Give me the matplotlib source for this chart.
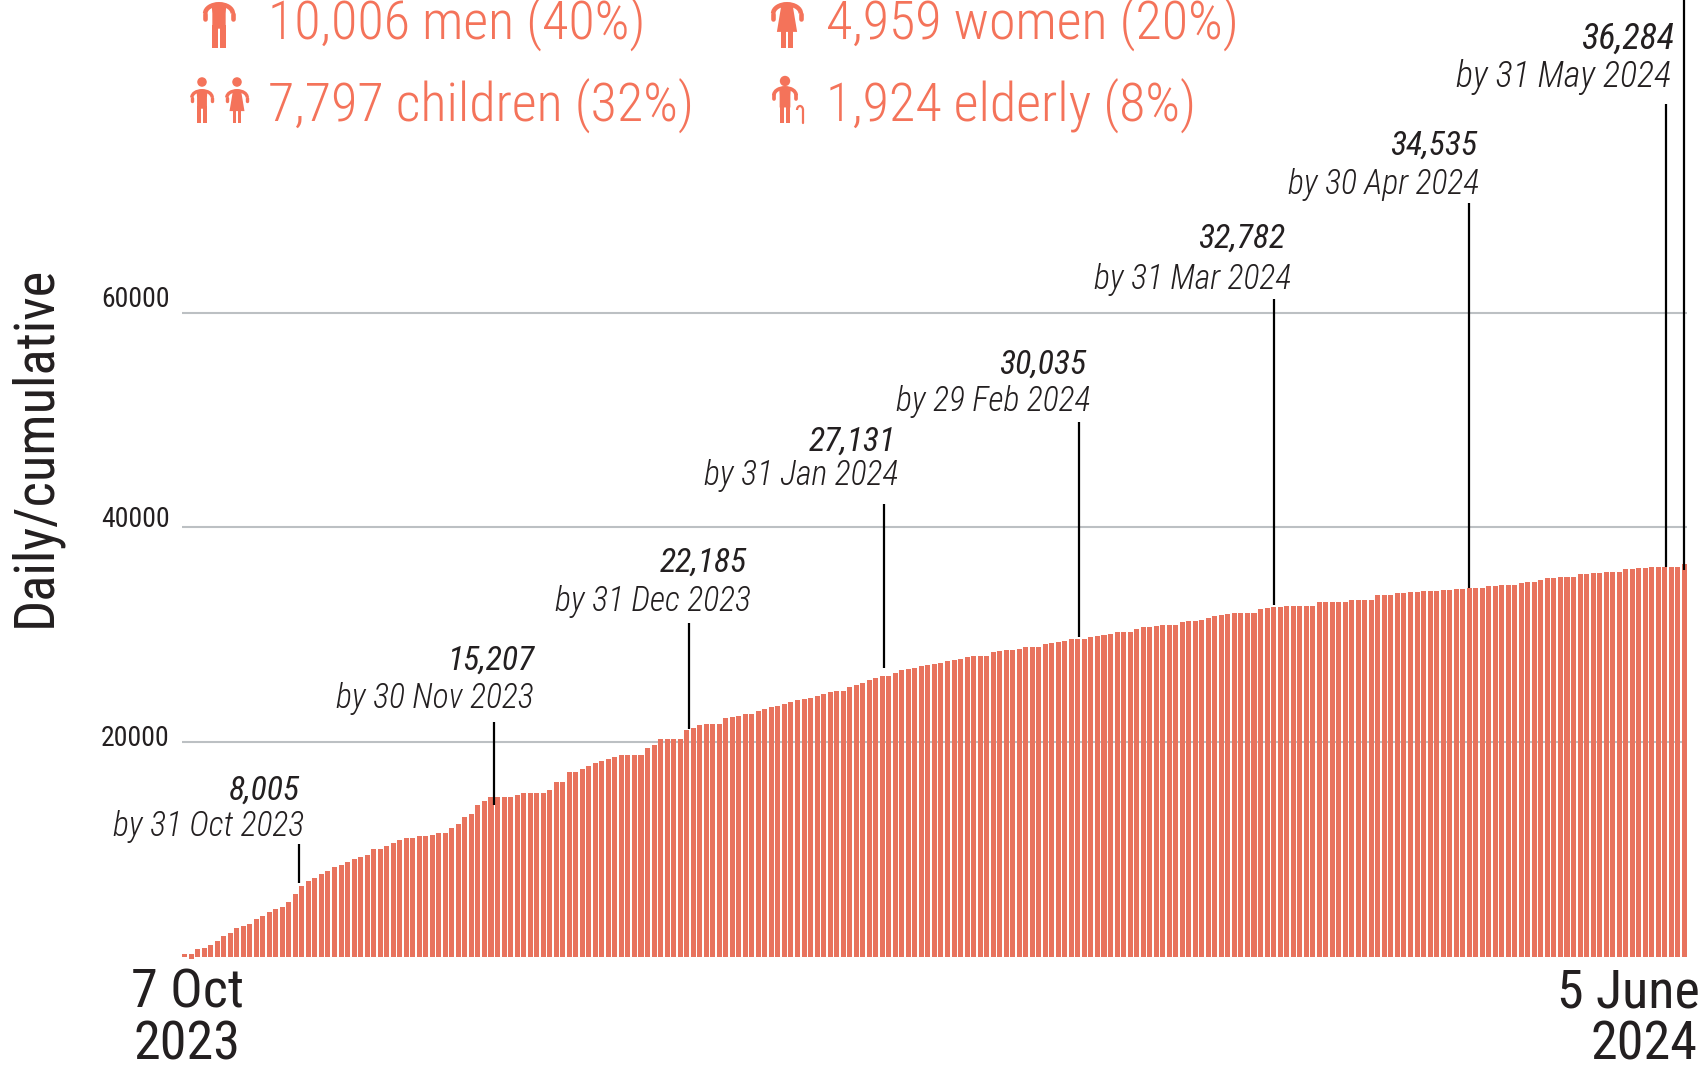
#!/usr/bin/python3

import matplotlib
matplotlib.use('Agg')
import matplotlib.pyplot as plt
from matplotlib.patches import Arc, Circle, Polygon, Rectangle

FONT = ['Roboto Condensed', 'Roboto', 'DejaVu Sans']
BAR_COLOR = '#E8735E'
LEGEND_COLOR = '#F4735A'
DARK = '#231F20'

# Height of each bar.
cumulative = [
    220, 220, 710, 810, 1090, 1460, 1930, 2210, 2670, 2860, 3040, 3510, 3790, 4160, 4440,
    4630, 5090, 5840, 6580, 7050, 7330, 7700, 7980, 8350, 8540, 8820, 9100, 9280, 9470,
    10030, 10030, 10310, 10590, 10870, 11050, 11050, 11240, 11240, 11330, 11520, 11520,
    11990, 12360, 13010, 13290, 14130, 14500, 14870, 14870, 14870, 14870, 15060, 15250,
    15250, 15250, 15250, 15530, 16270, 16270, 17200,
    17200, 17480, 17760, 18040, 18230, 18410, 18600, 18790, 18790, 18790, 18790, 19440,
    19720, 20280, 20280, 20280, 20280, 21110, 21300, 21580, 21670, 21670, 21670, 22230,
    22330, 22420, 22600, 22600, 22880, 23070, 23260, 23350, 23540, 23720, 23910, 24000,
    24100, 24280, 24470, 24650, 24750, 24750, 25120, 25310, 25490, 25770, 25960, 26140,
    26140, 26420, 26700, 26800, 26890, 27080, 27170, 27260, 27360, 27540, 27640, 27730,
    27910,
    28010, 28010, 28010, 28380, 28470, 28570, 28570, 28660, 28850, 28850, 28850, 29130,
    29220, 29310, 29400, 29590, 29590, 29590, 29780, 29870, 29960, 30060, 30240, 30240,
    30240, 30520, 30710, 30710, 30800, 30900, 30900, 30900, 31170, 31270, 31270, 31360,
    31550, 31730, 31830, 31920, 32010, 32010, 32010, 32010, 32390, 32480, 32570, 32570,
    32670, 32670, 32670, 32670, 32670, 33040, 33040, 33040, 33040, 33040, 33220, 33220,
    33220, 33220,
    33720, 33720, 33720, 33900, 33900, 34000, 34000, 34090, 34090, 34090, 34180, 34180,
    34280, 34280, 34370, 34370, 34370, 34560, 34560, 34650, 34650, 34650, 34840, 34930,
    34930, 35120, 35310, 35310, 35370, 35370, 35370, 35650, 35650, 35740, 35740, 35840,
    35840, 35840, 36120, 36120, 36210, 36210, 36310, 36310, 36310, 36310, 36310, 36590,
]

grid_values = [20000, 40000, 60000]
grid_labels = ['20000', '40000', '60000']

# Annotated month ends: bar position, line top, line bottom, number, date.
month_bar = [17.5, 47.4, 77.3, 107.3, 137.2, 167.1, 197.0, 227.2, 230.0]
month_top = [10500, 21860, 31080, 42170, 49850, 61270, 70210, 79430, 89117]
month_bottom = [6870, 14130, 21180, 26920, 29810, 32760, 34300, 36300, 36020]
month_totals = ['8,005', '15,207', '22,185', '27,131', '30,035', '32,782', '34,535', '36,284']
month_dates = ['by 31 Oct 2023', 'by 30 Nov 2023', 'by 31 Dec 2023', 'by 31 Jan 2024',
               'by 29 Feb 2024', 'by 31 Mar 2024', 'by 30 Apr 2024', 'by 31 May 2024']

legend_labels = ['10,006 men (40%)', '4,959 women (20%)', '7,797 children (32%)', '1,924 elderly (8%)']

W, H = 1704, 1065

fig = plt.figure(figsize=(W / 100, H / 100), dpi=100)

# Chart axes fill the figure from the left of the bars to just past the last one.
ax = fig.add_axes([182 / W, 0, (1687 - 182) / W, 1])
ax.set_xlim(-0.385, 230.4)
ax.set_ylim(-10090, 89117)
ax.axis('off')

ax.hlines(grid_values, -0.385, 230.4, color='#BCC0C3', lw=1.5, zorder=1)
bottoms = [0] * len(cumulative)
bottoms[1] = -190
heights = [c - b for c, b in zip(cumulative, bottoms)]
ax.bar(range(len(cumulative)), heights, bottom=bottoms, width=0.77, color=BAR_COLOR, zorder=2)
ax.vlines(month_bar, month_bottom, month_top, color='black', lw=1.6, zorder=3, clip_on=False)

# Overlay in pixel coordinates for the text and the little people.
over = fig.add_axes([0, 0, 1, 1])
over.set_xlim(0, W)
over.set_ylim(H, 0)
over.axis('off')
over.patch.set_alpha(0)


def label(x, y, s, size, ha='right', color=DARK, **kw):
    over.text(x, y, s, fontsize=size, ha=ha, va='baseline', color=color, family=FONT, **kw)


# Tick labels sit a little above their grid lines.
for y, s in zip([746, 527, 307], grid_labels):
    label(170, y, s, 20)

over.text(35, 446, 'Daily/cumulative', fontsize=39.4, rotation=90, ha='center', va='center',
          color=DARK, family=FONT)

label(244, 1008, '7 Oct', 39)
label(240, 1060, '2023', 39)
label(1700, 1008, '5 June', 39)
label(1697, 1060, '2024', 39)

total_pos = [(300, 800), (534, 670), (747, 572), (896, 451), (1086, 374), (1285, 248), (1477, 155), (1674, 49)]
date_pos = [(304, 836), (534, 708), (751, 611), (898, 485), (1090, 411), (1291, 289), (1479, 194), (1671, 87)]
# The last annotation is set a little larger than the others.
sizes = [24.3] * 7 + [26]
for (x, y), s, size in zip(total_pos, month_totals, sizes):
    label(x, y, s, size, style='italic', weight='normal')
for (x, y), s, size in zip(date_pos, month_dates, sizes):
    label(x, y, s, size, style='italic', weight='light')

legend_pos = [(268, 40), (826, 40), (268, 122), (826, 122)]
for (x, y), s in zip(legend_pos, legend_labels):
    label(x, y, s, 39, ha='left', color=LEGEND_COLOR, weight='light')


def person(cx, top, h, head_y=None, dress=False):
    # Pictogram: optional head, arched arms, trunk or dress, and two legs.
    arm = h * 0.1
    half = h * 0.35 - arm / 2
    ry = h * 0.2
    feet = top + h
    if head_y is not None:
        over.add_patch(Circle((cx, head_y), h * 0.14, color=LEGEND_COLOR, lw=0))
    over.add_patch(Arc((cx, top + arm / 2 + ry), 2 * half, 2 * ry, theta1=180, theta2=360,
                       color=LEGEND_COLOR, lw=arm * 0.72))
    for side in (-1, 1):
        over.plot([cx + side * half] * 2, [top + arm / 2 + ry, top + h * 0.36], color=LEGEND_COLOR,
                  lw=arm * 0.72, solid_capstyle='round')
    trunk = h * 0.145
    if dress:
        hip = top + h * 0.65
        over.add_patch(Polygon([(cx - h * 0.12, top + h * 0.05), (cx + h * 0.12, top + h * 0.05),
                                (cx + h * 0.22, hip), (cx - h * 0.22, hip)], color=LEGEND_COLOR, lw=0))
        trunk = h * 0.125
    else:
        over.add_patch(Polygon([(cx - h * 0.16, top + h * 0.05), (cx + h * 0.16, top + h * 0.05),
                                (cx + trunk, top + h * 0.25), (cx + trunk, top + h * 0.58),
                                (cx - trunk, top + h * 0.58), (cx - trunk, top + h * 0.25)],
                               color=LEGEND_COLOR, lw=0))
    gap = h * 0.03
    leg_top = top + h * 0.5
    for left in (cx - trunk, cx + gap):
        over.add_patch(Rectangle((left, leg_top), trunk - gap, feet - leg_top, color=LEGEND_COLOR, lw=0))


person(219, 2, 46)
person(787, 2, 46, dress=True)
person(202, 89, 34, head_y=82)
person(237, 89, 34, head_y=82, dress=True)
person(785, 86, 37, head_y=81)
# Walking stick of the elderly figure.
over.add_patch(Arc((800, 110), 6, 8, theta1=180, theta2=360, color=LEGEND_COLOR, lw=1.6))
over.plot([803, 803], [110, 123], color=LEGEND_COLOR, lw=1.6, solid_capstyle='round')

fig.savefig('out.png', dpi=100)
